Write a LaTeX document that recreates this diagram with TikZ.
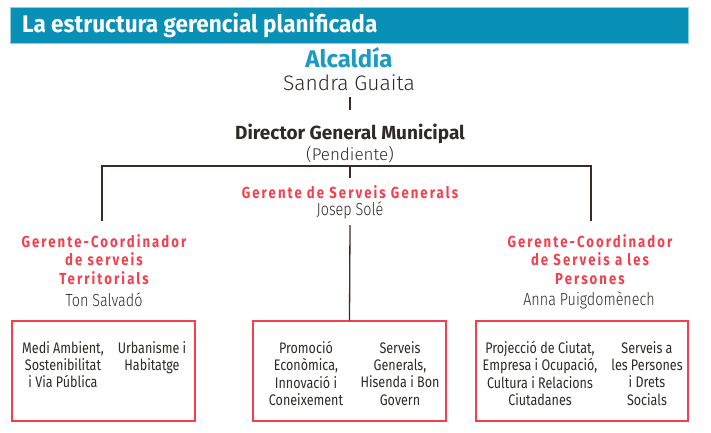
\documentclass[tikz,border=0pt]{standalone}
\usepackage{fontspec}
\setmainfont{Fira Sans}
\newfontfamily\condf[FakeStretch=0.82]{Fira Sans}
\newfontfamily\titlef[FakeStretch=0.94]{Fira Sans}
\newfontfamily\lightf[UprightFont=* Light]{Fira Sans}
\newfontfamily\lightcf[UprightFont=* Light,FakeStretch=0.82]{Fira Sans}
\newfontfamily\redf[FakeStretch=0.82,LetterSpace=13]{Fira Sans}
\definecolor{teal}{HTML}{0890B6}
\definecolor{tealtxt}{HTML}{1A9CC2}
\definecolor{redc}{HTML}{F2404E}
\definecolor{linec}{HTML}{3B2C20}
\definecolor{txt}{HTML}{2E2A26}
\tikzset{
  conn/.style={draw=linec, line width=1.3pt},
  unitbox/.style={draw=redc, line width=1.4pt},
  ttl/.style={inner sep=0pt, font=\titlef\bfseries\fontsize{24}{28}\selectfont, text=white, anchor=west},
  role/.style={inner sep=0pt, align=center, font=\redf\bfseries\fontsize{16}{18.7}\selectfont, text=redc},
  person/.style={inner sep=0pt, font=\lightf\fontsize{21}{24}\selectfont, text=txt},
  cperson/.style={inner sep=0pt, font=\lightcf\fontsize{17.5}{20}\selectfont, text=txt},
  unit/.style={inner sep=0pt, align=center, anchor=north, font=\condf\fontsize{15.3}{17.4}\selectfont, text=txt}
}
\begin{document}
\begin{tikzpicture}[x=1pt,y=-1pt]
\useasboundingbox (0,0) rectangle (711,432);
% header
\fill[teal!45] (10,7) rectangle (689,44);
\fill[teal] (11,8) rectangle (688,43);
\node[ttl] (title) at (22,25) {La estructura gerencial planificada};
% top
\node[inner sep=0pt, font=\bfseries\fontsize{24}{28}\selectfont, text=tealtxt] (alc) at (349,58) {Alcaldía};
\node[person] (sandra) at (349,83) {Sandra Guaita};
\coordinate (a1) at (350,97);
\coordinate (a2) at (350,110);
\draw[conn] (a1) -- (a2);
\node[inner sep=0pt, font=\bfseries\fontsize{19}{22}\selectfont, text=txt] (dir) at (350,134) {Director General Municipal};
\node[inner sep=0pt, font=\lightf\fontsize{17}{20}\selectfont, text=txt] (pend) at (350,155) {(Pendiente)};
% horizontal bar
\coordinate (hl) at (102,166);
\coordinate (hc) at (350,166);
\coordinate (hr) at (591,166);
\coordinate (vl) at (102,221);
\coordinate (vr) at (591,221);
\coordinate (vc) at (350,178);
\coordinate (vc2) at (350,225);
\draw[conn] (vl) -- (hl) -- (hr) -- (vr);
\draw[conn] (hc) -- (vc);
% center
\node[role] (gsg) at (350,192) {Gerente de Serveis Generals};
\node[cperson] (josep) at (350,210) {Josep Solé};
% left
\node[role, anchor=north] (gl) at (104,234) {Gerente-Coordinador\\de serveis\\Territorials};
\node[cperson] (ton) at (104,300) {Ton Salvadó};
% right
\node[role, anchor=north] (gr) at (590,234) {Gerente-Coordinador\\de Serveis a les\\Persones};
\node[cperson] (anna) at (589,300) {Anna Puigdomènech};
% boxes
\node[unitbox, minimum width=183pt, minimum height=100pt, inner sep=0pt] (bl) at (103.5,371) {};
\node[unitbox, minimum width=193pt, minimum height=100pt, inner sep=0pt] (bm) at (349.5,371) {};
\node[unitbox, minimum width=212pt, minimum height=100pt, inner sep=0pt] (br) at (582,371) {};
\draw[conn] (vc2) -- (bm.north);
% unit texts
\node[unit] (u1) at (63,341) {Medi Ambient,\\Sostenibilitat\\i Via Pública};
\node[unit] (u2) at (152,341) {Urbanisme i\\Habitatge};
\node[unit] (u3) at (306,341) {Promoció\\Econòmica,\\Innovació i\\Coneixement};
\node[unit] (u4) at (400,341) {Serveis\\Generals,\\Hisenda i Bon\\Govern};
\node[unit] (u5) at (540,341) {Projecció de Ciutat,\\Empresa i Ocupació,\\Cultura i Relacions\\Ciutadanes};
\node[unit] (u6) at (647,341) {Serveis a\\les Persones\\i Drets\\Socials};
\end{tikzpicture}
\end{document}
